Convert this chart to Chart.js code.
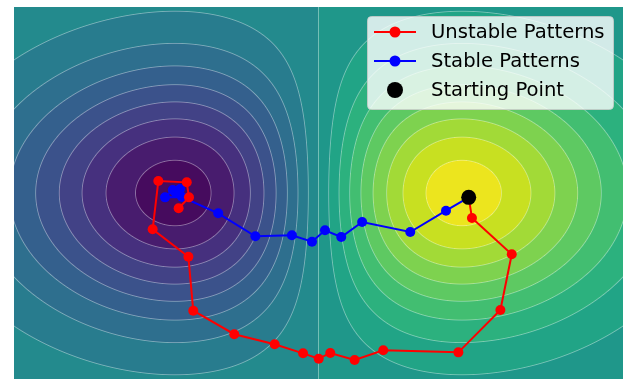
<!DOCTYPE html>
<html>
<head>
<meta charset="utf-8">
<script src="https://cdn.jsdelivr.net/npm/chart.js@4/dist/chart.umd.min.js"></script>
<style>
  html, body { margin: 0; padding: 0; background: #ffffff; }
  canvas { display: block; }
</style>
</head>
<body>
<canvas id="c" width="626" height="379"></canvas>
<script>
// ---- Data ----
const seriesLabels = ["Unstable Patterns", "Stable Patterns", "Starting Point"];

const startX = [0.74];
const startY = [-0.035];

const unstableX = [0.74, 0.756, 0.952, 0.896, 0.689, 0.319, 0.178, 0.058, 0.001, -0.076, -0.216, -0.415, -0.617, -0.641, -0.817, -0.789, -0.649, -0.638, -0.689];
const unstableY = [-0.035, -0.202, -0.494, -0.944, -1.285, -1.268, -1.347, -1.290, -1.336, -1.293, -1.220, -1.139, -0.949, -0.514, -0.293, 0.097, 0.086, -0.035, -0.123];

const stableX = [0.74, 0.628, 0.452, 0.215, 0.112, 0.032, -0.032, -0.131, -0.311, -0.494, -0.672, -0.756, -0.718, -0.682, -0.702];
const stableY = [-0.035, -0.143, -0.315, -0.234, -0.355, -0.301, -0.393, -0.341, -0.349, -0.164, -0.032, -0.035, 0.024, 0.032, 0.0];

// Contour levels of the background surface and band colours (viridis)
const levels = [-0.45, -0.40, -0.35, -0.30, -0.25, -0.20, -0.15, -0.10, -0.05, 0.0, 0.05, 0.10, 0.15, 0.20, 0.25, 0.30, 0.35, 0.40, 0.45];
const bandColors = ["#460b5e", "#481c6e", "#46307e", "#424286", "#3b528b", "#34608d", "#2e6f8e", "#287c8e", "#238a8d",
                    "#1f978a", "#21a486", "#2cb17e", "#42be71", "#5ec962", "#7ed24f", "#a2da37", "#c8e021", "#ece51e"];
const axisRange = [-1.5, 1.5];

// background landscape surface
function surface(x, y) { return x * Math.exp(-x * x - y * y); }

function toPoints(xs, ys) { return xs.map((v, i) => ({ x: v, y: ys[i] })); }
function hexRgb(h) { return [parseInt(h.slice(1, 3), 16), parseInt(h.slice(3, 5), 16), parseInt(h.slice(5, 7), 16)]; }

const fieldPlugin = {
  id: 'field',
  beforeDatasetsDraw(chart) {
    const { ctx, chartArea: a, scales } = chart;
    const sx = scales.x, sy = scales.y;
    const L = Math.round(a.left), T = Math.round(a.top);
    const W = Math.round(a.right) - L, H = Math.round(a.bottom) - T;
    const img = ctx.createImageData(W, H);
    const rgb = bandColors.map(hexRgb);
    const step = levels[1] - levels[0];
    const xs = new Float64Array(W), ys = new Float64Array(H);
    for (let i = 0; i < W; i++) xs[i] = sx.getValueForPixel(L + i + 0.5);
    for (let j = 0; j < H; j++) ys[j] = sy.getValueForPixel(T + j + 0.5);
    const dxp = Math.abs(sx.getValueForPixel(L + 1) - sx.getValueForPixel(L));
    const dyp = Math.abs(sy.getValueForPixel(T + 1) - sy.getValueForPixel(T));
    const lineAlpha = 0.42, lineW = 0.8;
    for (let j = 0; j < H; j++) {
      for (let i = 0; i < W; i++) {
        const x = xs[i], y = ys[j];
        const f = surface(x, y);
        let k = Math.floor((f - levels[0]) / step);
        if (k < 0) k = 0; if (k > rgb.length - 1) k = rgb.length - 1;
        let [r, g, b] = rgb[k];
        const lvIdx = Math.round((f - levels[0]) / step);
        const lv = levels[Math.max(0, Math.min(levels.length - 1, lvIdx))];
        const fx = (surface(x + dxp, y) - surface(x - dxp, y)) / 2;
        const fy = (surface(x, y + dyp) - surface(x, y - dyp)) / 2;
        const gr = Math.hypot(fx, fy) || 1e-12;
        const d = Math.abs(f - lv) / gr;
        const al = lineAlpha * Math.max(0, Math.min(1, lineW / 2 + 0.5 - d));
        r += (255 - r) * al; g += (255 - g) * al; b += (255 - b) * al;
        const o = (j * W + i) * 4;
        img.data[o] = r; img.data[o + 1] = g; img.data[o + 2] = b; img.data[o + 3] = 255;
      }
    }
    ctx.putImageData(img, L, T);
  }
};

const legendPlugin = {
  id: 'customLegend',
  afterDraw(chart) {
    const ctx = chart.ctx;
    const bx = 367.5, by = 16.5, bw = 246, bh = 93, rad = 4;
    ctx.save();
    ctx.beginPath();
    ctx.moveTo(bx + rad, by);
    ctx.arcTo(bx + bw, by, bx + bw, by + bh, rad);
    ctx.arcTo(bx + bw, by + bh, bx, by + bh, rad);
    ctx.arcTo(bx, by + bh, bx, by, rad);
    ctx.arcTo(bx, by, bx + bw, by, rad);
    ctx.closePath();
    ctx.fillStyle = 'rgba(255,255,255,0.8)';
    ctx.fill();
    ctx.strokeStyle = 'rgba(204,204,204,0.8)';
    ctx.lineWidth = 1;
    ctx.stroke();
    const rows = [32, 61, 90];
    const legendRadius = [5.5, 5.5, 8];
    chart.data.datasets.forEach((ds, i) => {
      const yy = rows[i];
      if (ds.showLine) {
        ctx.beginPath();
        ctx.moveTo(374, yy); ctx.lineTo(416, yy);
        ctx.strokeStyle = ds.borderColor; ctx.lineWidth = 2; ctx.stroke();
      }
      ctx.beginPath();
      ctx.arc(395, yy, legendRadius[i], 0, Math.PI * 2);
      ctx.fillStyle = ds.pointBackgroundColor; ctx.fill();
      ctx.fillStyle = '#000';
      ctx.font = '19.6px "DejaVu Sans"';
      ctx.textBaseline = 'middle';
      ctx.fillText(ds.label, 431, yy + 1);
    });
    ctx.restore();
  }
};

new Chart(document.getElementById('c'), {
  type: 'scatter',
  data: {
    datasets: [
      { label: seriesLabels[0], data: toPoints(unstableX, unstableY), showLine: true,
        borderColor: '#ff0000', backgroundColor: '#ff0000', pointBackgroundColor: '#ff0000',
        pointBorderWidth: 0, borderWidth: 2, pointRadius: 5, order: 1 },
      { label: seriesLabels[1], data: toPoints(stableX, stableY), showLine: true,
        borderColor: '#0000ff', backgroundColor: '#0000ff', pointBackgroundColor: '#0000ff',
        pointBorderWidth: 0, borderWidth: 2, pointRadius: 5, order: 2 },
      { label: seriesLabels[2], data: toPoints(startX, startY), showLine: false,
        borderColor: '#000000', backgroundColor: '#000000', pointBackgroundColor: '#000000',
        pointBorderWidth: 0, pointRadius: 7.5, order: 0 }
    ]
  },
  options: {
    responsive: false,
    animation: false,
    devicePixelRatio: 1,
    layout: { autoPadding: false, padding: { left: 14, top: 7, right: 3, bottom: 0 } },
    scales: {
      x: { type: 'linear', min: axisRange[0], max: axisRange[1], display: false },
      y: { type: 'linear', min: axisRange[0], max: axisRange[1], display: false }
    },
    plugins: { legend: { display: false }, tooltip: { enabled: false } },
    events: []
  },
  plugins: [fieldPlugin, legendPlugin]
});
</script>
</body>
</html>
